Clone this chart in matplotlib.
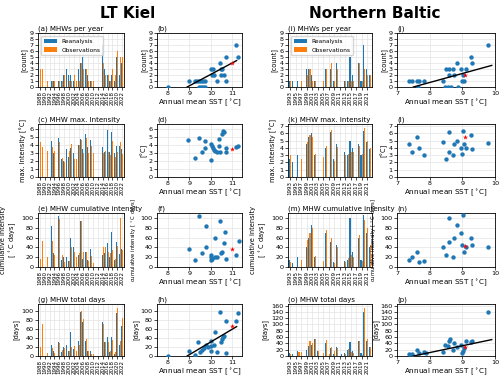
import numpy as np
import matplotlib
matplotlib.use("Agg")
import matplotlib.pyplot as plt

nan = np.nan
BLUE = "#1f77b4"
ORANGE = "#ff7f0e"

# ---------------- LT Kiel ----------------
kiel_years = list(range(1988, 2023))
kiel_cnt_re = [0,0,0,0,0,1,1,0,1,1,2,3,2,2,1,0,3,4,5,3,2,1,0,0,0,0,7,3,2,1,2,1,5,2,4]
kiel_cnt_ob = [3,3,0,1,0,1,1,0,1,1,2,2,1,1,2,1,1,4,3,3,1,1,1,0,0,0,4,2,2,1,3,2,6,5,5]
kiel_mi_re = [nan,nan,nan,nan,nan,4.5,3.0,nan,4.9,2.3,2.0,3.5,2.5,3.6,3.0,nan,4.0,4.7,3.5,5.4,3.7,4.6,nan,nan,nan,nan,3.7,3.1,5.8,3.1,5.6,3.0,3.8,3.9,3.5]
kiel_mi_ob = [4.3,3.7,nan,3.2,nan,3.7,3.2,nan,4.4,2.4,1.9,2.7,3.2,4.1,2.3,2.3,4.0,4.6,3.0,4.8,3.0,3.8,3.0,nan,nan,nan,3.0,3.2,3.1,2.8,4.5,2.5,3.1,4.3,2.9]
kiel_ci_re = [nan,nan,nan,nan,nan,83,28,nan,104,15,20,20,12,59,41,nan,25,93,16,31,14,36,nan,nan,nan,nan,25,29,49,20,71,15,51,27,36]
kiel_ci_ob = [17,52,nan,20,nan,52,25,nan,98,24,11,30,12,40,30,20,28,93,30,30,12,22,8,nan,nan,nan,40,40,30,28,35,17,43,100,35]
kiel_td_re = [0,0,0,0,0,24,10,0,30,8,20,25,12,52,15,0,34,98,76,33,10,10,0,0,0,0,76,32,41,8,43,5,96,24,67]
kiel_td_ob = [20,70,0,7,0,17,7,0,29,13,17,27,10,20,22,10,25,100,82,37,10,5,5,0,0,0,70,31,30,12,35,8,107,34,83]

kiel_b_sst = [8.0,8.97,9.27,9.38,9.47,9.55,9.65,9.75,9.45,9.55,9.65,9.75,10.03,10.1,10.05,10.15,10.3,10.43,10.46,10.54,10.46,10.6,10.72,10.72,11.15,11.28]
kiel_b_val = [0,1,1,1,1,1,1,1,0,0,0,0,3,3,2,2,1,4,3,3,2,2,5,1,7,5]
kiel_d_sst = [8.95,9.25,9.45,9.6,9.75,9.75,10.0,10.0,10.05,10.1,10.15,10.2,10.3,10.38,10.4,10.45,10.5,10.55,10.6,10.7,10.7,11.15,11.25]
kiel_d_val = [4.6,2.4,4.9,3.1,4.5,3.6,4.1,2.1,3.8,3.6,3.4,3.2,3.1,4.7,3.9,3.1,5.4,5.7,5.6,3.6,3.1,3.7,3.8]
kiel_f_sst = [8.97,9.28,9.46,9.6,9.77,9.8,10.0,10.03,10.03,10.07,10.18,10.2,10.3,10.43,10.46,10.54,10.6,10.65,10.72,11.15,11.3]
kiel_f_val = [36,15,104,29,41,84,25,20,14,17,59,20,21,93,29,31,49,71,17,24,52]
kiel_h_sst = [8.0,8.97,9.28,9.42,9.5,9.6,9.68,9.77,9.85,10.0,10.03,10.03,10.15,10.18,10.3,10.43,10.46,10.5,10.58,10.6,10.72,10.72,11.15,11.28]
kiel_h_val = [0,12,2,31,9,13,17,24,20,33,22,10,24,53,9,98,31,38,42,45,77,6,77,95]
kiel_star_sst = 10.97
kiel_star = [4, 3.5, 36, 66]
kiel_trend_x = [8.9, 11.2]
kiel_trend_cnt = [0.0, 4.4]
kiel_trend_td = [0.0, 65.0]

# ---------------- Northern Baltic ----------------
nb_years = list(range(1993, 2023))
nb_cnt_re = [1,1,0,1,0,0,3,3,2,1,0,0,0,3,0,3,1,4,0,0,1,1,5,2,0,4,1,7,3,2]
nb_cnt_ob = [1,0,0,0,1,0,2,3,1,1,0,0,1,3,0,4,1,3,0,0,1,1,1,1,0,4,1,3,2,2]
nb_mi_re = [2.5,2.0,nan,3.0,nan,nan,4.5,5.5,6.0,3.0,nan,nan,nan,4.0,nan,6.2,2.5,4.5,nan,nan,3.5,3.0,5.0,4.0,nan,4.5,3.0,6.3,4.8,3.8]
nb_mi_ob = [3.0,nan,nan,nan,2.5,nan,4.8,5.8,5.5,3.2,nan,nan,2.8,4.3,nan,6.5,2.2,4.2,nan,nan,3.0,3.2,3.5,3.5,nan,4.3,3.2,6.8,5.0,4.0]
nb_ci_re = [15,8,nan,20,nan,nan,40,60,85,20,nan,nan,nan,70,nan,50,10,45,nan,nan,12,15,100,30,nan,60,15,105,70,40]
nb_ci_ob = [10,nan,nan,nan,15,nan,55,70,80,22,nan,nan,12,75,nan,60,8,40,nan,nan,10,18,25,20,nan,65,12,95,80,45]
nb_td_re = [10,5,0,15,0,0,18,33,35,53,17,0,0,42,0,25,5,27,0,7,10,20,43,17,0,47,10,140,48,27]
nb_td_ob = [5,0,0,14,13,0,0,47,40,55,15,0,10,50,5,30,17,25,0,0,7,22,14,10,0,48,3,152,55,30]

nb_j_sst = [7.38,7.45,7.6,7.67,7.65,7.83,8.4,8.48,8.5,8.55,8.6,8.6,8.65,8.7,8.73,8.83,8.87,8.95,9.0,9.03,9.05,9.1,9.27,9.3,9.8]
nb_j_val = [1,1,1,1,0,1,1,0,3,0,3,2,0,3,2,4,0,3,1,2,1,3,5,4,7]
nb_l_sst = [7.38,7.45,7.6,7.67,7.83,8.4,8.5,8.6,8.6,8.7,8.73,8.83,8.95,9.0,9.03,9.05,9.1,9.27,9.3,9.8]
nb_l_val = [4.5,3.5,5.5,4.0,3.0,4.8,2.5,3.5,6.2,3.0,4.5,5.0,4.0,3.2,6.3,4.5,4.0,5.8,3.8,4.7]
nb_n_sst = [7.38,7.45,7.6,7.67,7.83,8.4,8.5,8.6,8.6,8.7,8.73,8.83,8.95,9.0,9.03,9.05,9.1,9.27,9.3,9.8]
nb_n_val = [15,20,30,10,12,40,25,50,100,20,60,85,70,45,105,30,40,60,45,40]
nb_p_sst = [7.38,7.45,7.6,7.67,7.83,7.9,8.4,8.48,8.55,8.6,8.63,8.7,8.73,8.83,8.95,9.0,9.03,9.05,9.1,9.27,9.3,9.8]
nb_p_val = [6,5,18,10,13,10,13,35,31,49,55,20,42,27,35,10,17,25,48,44,48,140]
nb_star_sst = 9.08
nb_star = [2, 5.5, 42, 27]
nb_trend_x = [7.5, 9.9]
nb_trend_cnt = [0.0, 3.6]
nb_trend_td = [0.0, 52.0]

# ---------------- layout ----------------
W, H = 500, 380
fig = plt.figure(figsize=(W/100, H/100), dpi=100)
plt.rcParams['font.family'] = ['DejaVu Sans']

cols = [(38, 124), (157, 242), (288, 372), (397, 495)]
rows = [(33, 87), (124, 177), (213, 267), (304, 356)]

def ax_at(c, r):
    x0, x1 = cols[c]
    y0, y1 = rows[r]
    return fig.add_axes([x0/W, 1-y1/H, (x1-x0)/W, (y1-y0)/H])

FS = 4.6
TFS = 5.0
titles_bar = ["MHWs per year", "MHW max. Intensity", "MHW cumulative intensity", "MHW total days"]
ylabels_bar = ["[count]", "max. Intensity [°C]", "cumulative intensity\n[ $^\\circ$C days]", "[days]"]
ylabels_sc = ["[count]", "[°C]", "cumulative intensity [ $^\\circ$C days]", "[days]"]
ylab_fs_sc = [4.8, 4.8, 3.8, 4.8]

def style(ax):
    ax.grid(True, color="#e3e3e3", lw=0.5)
    ax.set_axisbelow(True)
    ax.tick_params(labelsize=FS, length=2, width=0.5, pad=1)
    for s in ax.spines.values():
        s.set_linewidth(0.6)

def bars(ax, years, re, ob, ylim, yticks, letter, title, ylabel, legend=False, labstep=2):
    x = np.arange(len(years))
    ax.bar(x-0.2, re, width=0.4, color=BLUE, label="Reanalysis")
    ax.bar(x+0.2, ob, width=0.4, color=ORANGE, label="Observations")
    ax.set_xlim(-0.8, len(years)-0.2)
    ax.set_ylim(*ylim)
    ax.set_yticks(yticks)
    style(ax)
    ax.set_xticks(x[::labstep])
    ax.set_xticklabels([str(y) for y in years[::labstep]], rotation=90, fontsize=4.0)
    ax.set_title(f"({letter}) {title}", loc="left", fontsize=TFS, pad=2)
    ax.set_ylabel(ylabel, fontsize=4.8, labelpad=2)
    if legend:
        ax.legend(loc="upper left", fontsize=4.2, handlelength=2.2, borderpad=0.5, labelspacing=0.6)

def scat(ax, sst, val, star_x, star_y, xlim, xticks, ylim, yticks, letter, ylabel, yfs, tx=None, ty=None):
    ax.scatter(sst, val, s=10, color=BLUE, zorder=3, linewidths=0)
    if tx is not None:
        ax.plot(tx, ty, color="black", lw=1, zorder=4)
    ax.scatter([star_x], [star_y], marker="*", s=14, color="red", zorder=5, linewidths=0)
    ax.set_xlim(*xlim)
    ax.set_xticks(xticks)
    ax.set_ylim(*ylim)
    ax.set_yticks(yticks)
    style(ax)
    ax.set_title(f"({letter})", loc="left", fontsize=TFS, pad=2)
    ax.set_ylabel(ylabel, fontsize=yfs, labelpad=1)
    ax.set_xlabel("Annual mean SST [$^\\circ$C]", fontsize=5.2, labelpad=1.5)

ylims_k = [(0, 9), (0, 6.6), (0, 110), (0, 115)]
yticks_k = [range(0, 10), range(0, 7), range(0, 101, 20), range(0, 101, 20)]
ylims_n = [(0, 9), (0, 7.3), (0, 110), (0, 165)]
yticks_n = [range(0, 10), range(0, 8), range(0, 101, 20), range(0, 161, 20)]

kre = [kiel_cnt_re, kiel_mi_re, kiel_ci_re, kiel_td_re]
kob = [kiel_cnt_ob, kiel_mi_ob, kiel_ci_ob, kiel_td_ob]
nre = [nb_cnt_re, nb_mi_re, nb_ci_re, nb_td_re]
nob = [nb_cnt_ob, nb_mi_ob, nb_ci_ob, nb_td_ob]
ksc = [(kiel_b_sst, kiel_b_val), (kiel_d_sst, kiel_d_val), (kiel_f_sst, kiel_f_val), (kiel_h_sst, kiel_h_val)]
nsc = [(nb_j_sst, nb_j_val), (nb_l_sst, nb_l_val), (nb_n_sst, nb_n_val), (nb_p_sst, nb_p_val)]
ktr = [kiel_trend_cnt, None, None, kiel_trend_td]
ntr = [nb_trend_cnt, None, None, nb_trend_td]

letters_k = ["a", "c", "e", "g"]
letters_ks = ["b", "d", "f", "h"]
letters_n = ["i", "k", "m", "o"]
letters_ns = ["j", "l", "n", "p"]

for r in range(4):
    a = ax_at(0, r)
    bars(a, kiel_years, kre[r], kob[r], ylims_k[r], yticks_k[r], letters_k[r], titles_bar[r], ylabels_bar[r], legend=(r == 0))
    a = ax_at(1, r)
    scat(a, ksc[r][0], ksc[r][1], kiel_star_sst, kiel_star[r], (7.5, 11.45), [8, 9, 10, 11], ylims_k[r], yticks_k[r], letters_ks[r], ylabels_sc[r], ylab_fs_sc[r],
         kiel_trend_x if ktr[r] else None, ktr[r])
    a = ax_at(2, r)
    bars(a, nb_years, nre[r], nob[r], ylims_n[r], yticks_n[r], letters_n[r], titles_bar[r], ylabels_bar[r], legend=(r == 0))
    a = ax_at(3, r)
    scat(a, nsc[r][0], nsc[r][1], nb_star_sst, nb_star[r], (7, 10), [7, 8, 9, 10], ylims_n[r], yticks_n[r], letters_ns[r], ylabels_sc[r], ylab_fs_sc[r],
         nb_trend_x if ntr[r] else None, ntr[r])

fig.text(128/W, 1-13/H, "LT Kiel", ha="center", va="center", fontsize=11, fontweight="bold")
fig.text(375/W, 1-13/H, "Northern Baltic", ha="center", va="center", fontsize=11, fontweight="bold")

fig.savefig("out.png", dpi=100)
